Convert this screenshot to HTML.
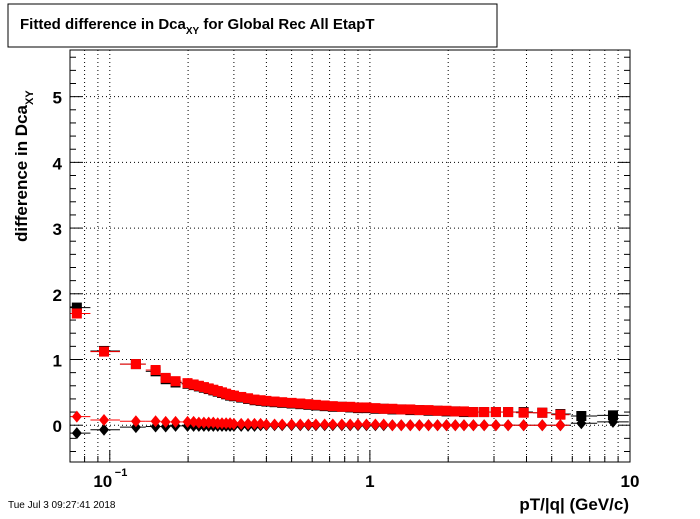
<!DOCTYPE html>
<html><head><meta charset="utf-8"><style>
body{margin:0;background:#fff;width:700px;height:514px;overflow:hidden;font-family:"Liberation Sans",sans-serif}
</style></head><body>
<svg id="c" width="700" height="514" xmlns="http://www.w3.org/2000/svg">
<rect x="0" y="0" width="700" height="514" fill="#fff"/>
<rect x="8" y="4" width="489" height="43" fill="#fff" stroke="#000"/>
<text x="20" y="29" font-size="15" font-weight="bold">Fitted difference in Dca<tspan font-size="10" dy="5">XY</tspan><tspan dy="-5"> for Global Rec All EtapT</tspan></text>
<text transform="translate(27,242) rotate(-90)" font-size="17" font-weight="bold">difference in Dca<tspan font-size="11" dy="6">XY</tspan></text>
<text x="629" y="510" text-anchor="end" font-size="17" font-weight="bold">pT/|q| (GeV/c)</text>
<text x="8" y="508" font-size="10">Tue Jul  3 09:27:41 2018</text>
<g id="grid"></g><g id="axes"></g><g id="marks"></g>
<rect x="70" y="50" width="560" height="412" fill="none" stroke="#000"/>
</svg>
<script>
const xs=[0.0747,0.095,0.126,0.150,0.164,0.179,0.199,0.21,0.22,0.23,0.24,0.25,0.26,0.27,0.28,0.29,0.30,0.32,0.34,0.36,0.38,0.40,0.43,0.46,0.50,0.54,0.58,0.62,0.67,0.72,0.78,0.84,0.90,0.97,1.05,1.13,1.22,1.32,1.43,1.55,1.68,1.82,1.97,2.13,2.3,2.5,2.75,3.05,3.4,3.9,4.6,5.4];
const xsBlack=[0.0747,0.095,0.126,0.150,0.164,0.179,0.199,0.21,0.22,0.23,0.24,0.25,0.26,0.27,0.28,0.29,0.30,0.32,0.34,0.36,0.38,0.40,0.43,0.46,0.50,0.54,0.58,0.62,0.67,0.72,0.78,0.84,0.90,0.97,1.05,1.13,1.22,1.32,1.43,1.55,1.68,1.82,1.97,2.13,2.3,2.5,2.75,3.05,3.4,3.9,4.6,5.4,6.5,8.6];
const redSquares=[1.70,1.12,0.93,0.84,0.72,0.67,0.64,0.62,0.60,0.58,0.56,0.54,0.52,0.50,0.48,0.46,0.45,0.43,0.41,0.39,0.38,0.37,0.36,0.35,0.34,0.33,0.32,0.31,0.30,0.29,0.28,0.28,0.27,0.27,0.26,0.25,0.25,0.24,0.24,0.23,0.23,0.22,0.22,0.21,0.21,0.20,0.20,0.20,0.20,0.19,0.19,0.16];
const blackSquares=[1.79,1.13,0.93,0.82,0.70,0.65,0.63,0.61,0.59,0.57,0.55,0.53,0.51,0.49,0.47,0.45,0.44,0.42,0.40,0.38,0.37,0.36,0.35,0.34,0.33,0.32,0.31,0.30,0.29,0.28,0.28,0.27,0.26,0.26,0.25,0.25,0.24,0.24,0.23,0.23,0.22,0.22,0.21,0.21,0.20,0.20,0.20,0.20,0.20,0.20,0.19,0.17,0.14,0.15];
const redDiamonds=[0.13,0.08,0.06,0.06,0.05,0.05,0.05,0.05,0.04,0.04,0.04,0.04,0.03,0.03,0.03,0.03,0.02,0.02,0.02,0.02,0.02,0.01,0.01,0.01,0.01,0.01,0.01,0.01,0.01,0.01,0.01,0.01,0.01,0.01,0.01,0.01,0.00,0.00,0.00,0.00,0.00,0.00,0.00,0.00,0.00,0.00,0.00,0.00,0.00,0.00,0.00,0.00];
const blackDiamonds=[-0.12,-0.07,-0.03,-0.02,-0.02,-0.01,-0.01,-0.01,-0.01,-0.01,-0.01,-0.01,-0.01,-0.01,-0.01,-0.01,-0.01,-0.01,-0.01,-0.01,0.00,0.00,0.00,0.00,0.00,0.00,0.00,0.00,0.00,0.00,0.00,0.00,0.00,0.00,0.00,0.00,0.00,0.00,0.00,0.00,0.00,0.00,0.00,0.00,0.00,0.00,0.00,0.00,0.00,0.00,0.00,0.00,0.03,0.05];
const yTicks=[0,1,2,3,4,5];
const xMajor=[0.1,1,10];
const xMajorLabels=["10","1","10"];
const NS="http://www.w3.org/2000/svg";
const X0=70,X1=630,Y0=462,Y1=50,LX0=-1.153,LX1=1,YMIN=-0.56,YMAX=5.71;
const sx=v=>X0+(Math.log10(v)-LX0)/(LX1-LX0)*(X1-X0);
const sy=v=>Y0-(v-YMIN)/(YMAX-YMIN)*(Y0-Y1);
function mk(p,t,a){const e=document.createElementNS(NS,t);for(const k in a)e.setAttribute(k,a[k]);p.appendChild(e);return e;}
const grid=document.getElementById('grid'),axes=document.getElementById('axes'),marks=document.getElementById('marks');
for(let d=-2;d<=1;d++)for(let m=1;m<10;m++){const v=m*Math.pow(10,d);if(v<0.0704||v>10.001)continue;const x=sx(v);
 if(v<9.99){const g=mk(grid,'line',{x1:x,x2:x,y1:Y1,y2:Y0,stroke:'#000','stroke-dasharray':'1,3','stroke-width':1});
 }
 const len=(m===1)?12:6;const t=mk(axes,'line',{x1:x,x2:x,y1:Y0,y2:Y0-len,stroke:'#000'});
 }
xMajor.forEach((v,i)=>{const t=mk(axes,'text',{x:sx(v)+(i===0?-7:0),y:487,'text-anchor':'middle','font-size':17,'font-weight':'bold'});
 t.textContent=xMajorLabels[i];
 if(i===0){const s=mk(axes,'text',{x:sx(v)+5,y:476,'font-size':11,'font-weight':'bold'});s.textContent='−1';
 }});
yTicks.forEach(v=>{const y=sy(v);const g=mk(grid,'line',{x1:X0,x2:X1,y1:y,y2:y,stroke:'#000','stroke-dasharray':'1,3'});
 
 const t=mk(axes,'text',{x:62,y:y+7,'text-anchor':'end','font-size':17,'font-weight':'bold'});t.textContent=v;
 });
for(let v=-0.4;v<=5.61;v+=0.2){const y=sy(v);const maj=Math.abs(v-Math.round(v))<0.01;const len=maj?12:6;
 const a=mk(axes,'line',{x1:X0,x2:X0+len,y1:y,y2:y,stroke:'#000'});
 const b=mk(axes,'line',{x1:X1,x2:X1-len,y1:y,y2:y,stroke:'#000'});}
function edges(arr,i){const lo=i>0?Math.sqrt(arr[i]*arr[i-1]):arr[i]/Math.sqrt(arr[i+1]/arr[i]);
 const hi=i<arr.length-1?Math.sqrt(arr[i]*arr[i+1]):arr[i]*Math.sqrt(arr[i]/arr[i-1]);return [Math.max(lo,0.0704),Math.min(hi,10)];}
function series(xarr,vals,color,shape,name){vals.forEach((v,i)=>{const x=sx(xarr[i]),y=sy(v);const [lo,hi]=edges(xarr,i);
 const l=mk(marks,'line',{x1:sx(lo),x2:sx(hi),y1:y,y2:y,stroke:color});
 let m;if(shape==='sq'){m=mk(marks,'rect',{x:x-5,y:y-5,width:10,height:10,fill:color});}
 else{m=mk(marks,'polygon',{points:`${x},${y-6} ${x+5},${y} ${x},${y+6} ${x-5},${y}`,fill:color});}
 });}
series(xsBlack,blackSquares,'#000','sq','black-square');
series(xs,redSquares,'#f00','sq','red-square');
series(xsBlack,blackDiamonds,'#000','di','black-diamond');
series(xs,redDiamonds,'#f00','di','red-diamond');
</script>
</body></html>
